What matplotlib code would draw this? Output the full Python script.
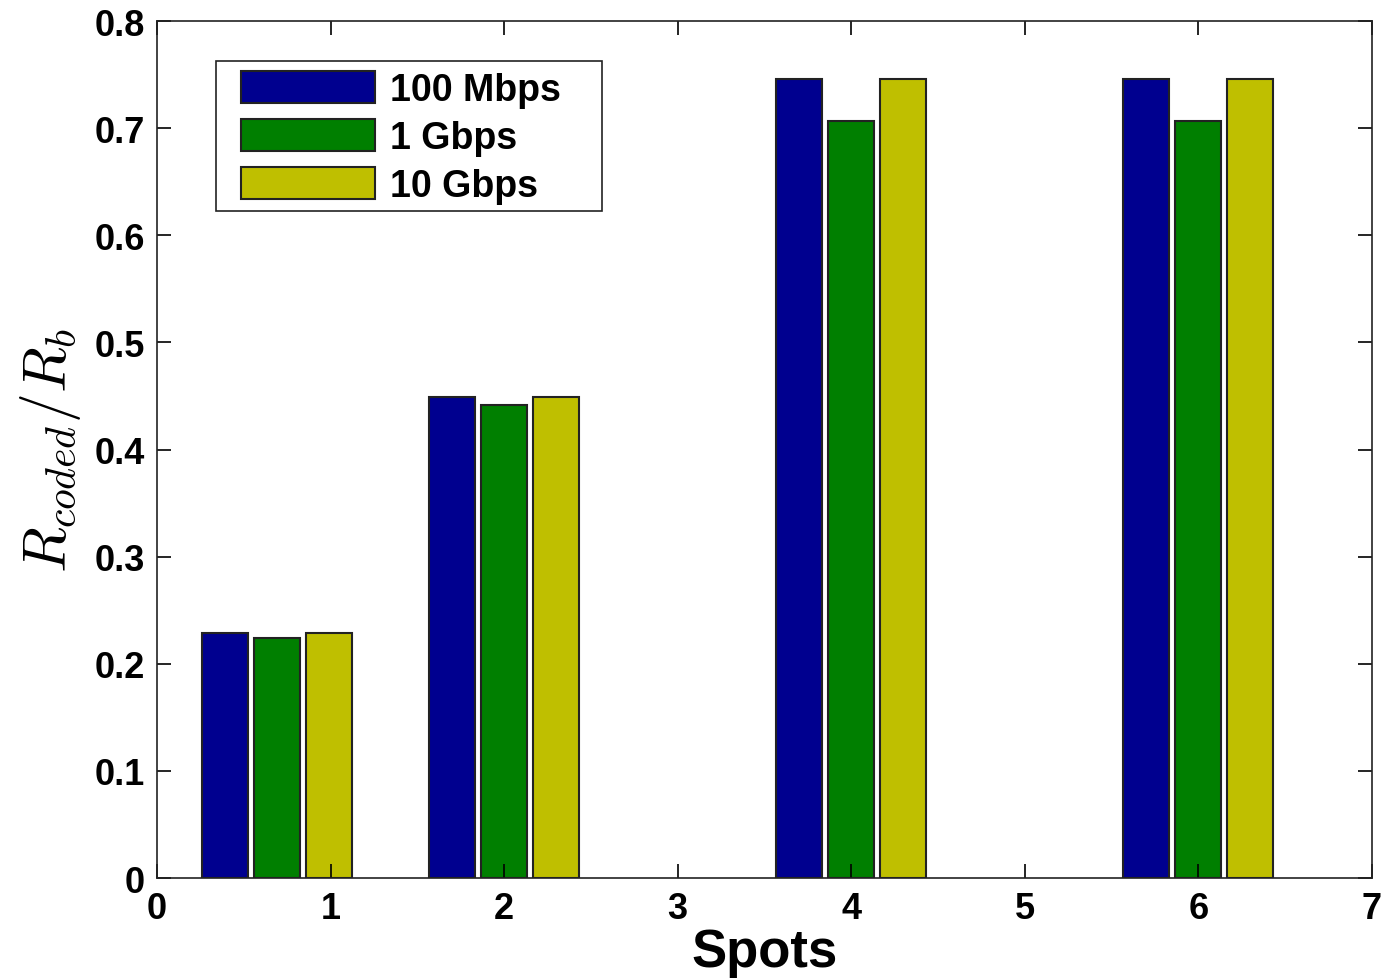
import matplotlib.pyplot as plt
from matplotlib.patches import Rectangle
import numpy as np

spots = [0.69, 2, 4, 6]
series = ["100 Mbps", "1 Gbps", "10 Gbps"]
vals_100m = [0.229, 0.449, 0.746, 0.746]
vals_1g = [0.224, 0.442, 0.707, 0.707]
vals_10g = [0.229, 0.449, 0.746, 0.746]
colors = ["#00008F", "#007F00", "#BFBF00"]

plt.rcParams["font.family"] = ["Liberation Sans", "DejaVu Sans"]
plt.rcParams["font.weight"] = "bold"
plt.rcParams["mathtext.fontset"] = "cm"

fig = plt.figure(figsize=(13.97, 9.79), dpi=100)
ax = fig.add_axes([0.1124, 0.1021, 0.8696, 0.8754])

x = np.array(spots)
width = 0.265
offsets = [-0.3, 0.0, 0.3]
for vals, off, c, lab in zip([vals_100m, vals_1g, vals_10g], offsets, colors, series):
    ax.bar(x + off, vals, width, color=c, edgecolor="#222222", linewidth=1.5, label=lab)

ax.set_xlim(0, 7)
ax.set_ylim(0, 0.8)
ax.set_xticks(range(0, 8))
ax.set_yticks(np.arange(0, 0.81, 0.1))
ax.set_yticklabels(["0"] + [f"{v:.1f}" for v in np.arange(0.1, 0.81, 0.1)])
ax.tick_params(direction="in", length=10, width=1.2, top=True, right=True,
               labelsize=26, pad=9)
for lbl in ax.get_xticklabels() + ax.get_yticklabels():
    lbl.set_fontweight("bold")
for s in ax.spines.values():
    s.set_linewidth(1.2)
    s.set_color("#222222")

ax.set_xlabel("Spots", fontsize=38, fontweight="bold", labelpad=1)
ax.set_ylabel(r"$R_{coded}/R_b$", fontsize=43, labelpad=8)

# legend frame drawn separately so the padding matches the original
ax.add_patch(Rectangle((0.0486, 0.7783), 0.3177, 0.175, transform=ax.transAxes,
                       facecolor="white", edgecolor="#222222", linewidth=1.2, zorder=4))
leg = ax.legend(loc="upper left", bbox_to_anchor=(0.0691, 0.9417), fontsize=27,
                handlelength=3.57, handleheight=0.93, labelspacing=0.3,
                handletextpad=0.4, borderpad=0, borderaxespad=0, frameon=False)
leg.set_zorder(5)
for t in leg.get_texts():
    t.set_fontweight("bold")

fig.savefig("out.png", dpi=100)
